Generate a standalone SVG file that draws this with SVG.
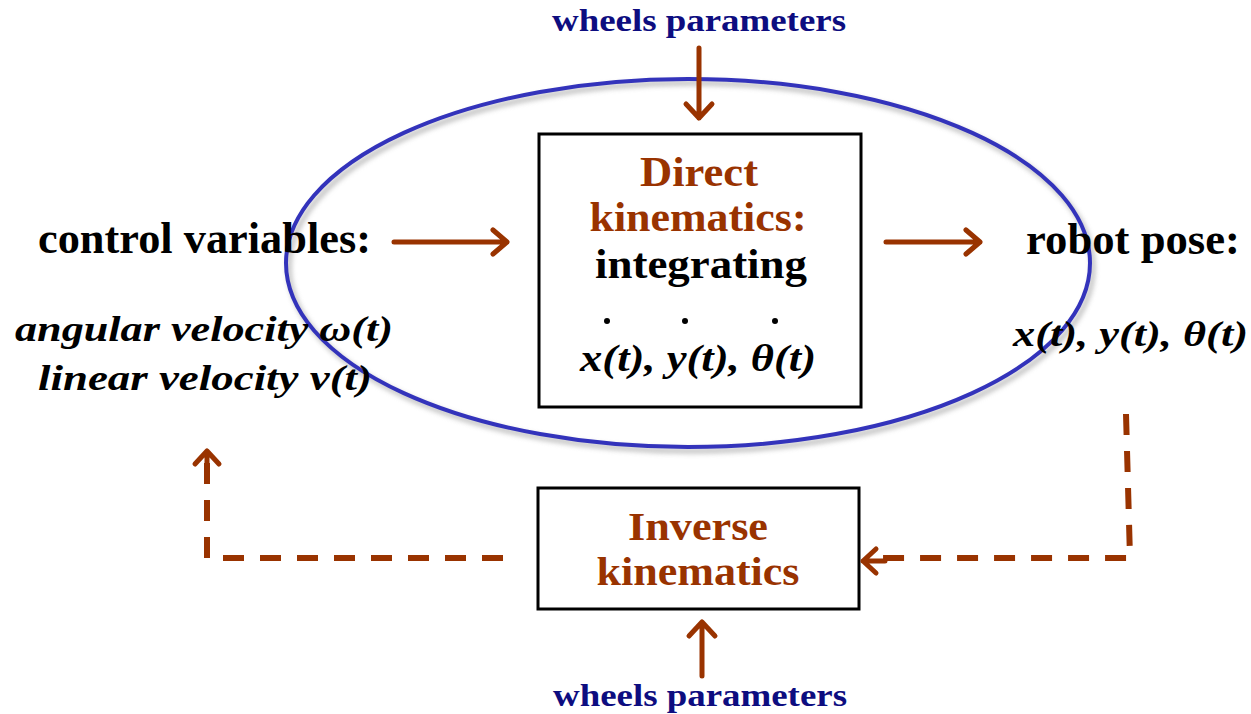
<svg xmlns="http://www.w3.org/2000/svg" width="1251" height="714" viewBox="0 0 1251 714">
<defs>
<style>
text{font-family:"Liberation Serif","Times New Roman",serif;font-weight:bold}
.nv{fill:#0d0d80;font-size:31px}
.br{fill:#993300}
.bk{fill:#000}
.it{font-style:italic}
.sol{stroke:#993300;stroke-width:5;fill:none;stroke-linecap:round;stroke-linejoin:round}
.dash{stroke:#993300;stroke-width:6;fill:none;stroke-dasharray:21 16}
.box{fill:#fff;stroke:#000;stroke-width:3}
</style>
<filter id="sh" x="-10%" y="-10%" width="120%" height="120%"><feGaussianBlur stdDeviation="2.5"/></filter>
</defs>
<rect width="1251" height="714" fill="#fff"/>
<g id="loop">
<ellipse cx="691" cy="267" rx="402" ry="184" fill="none" stroke="#999" stroke-width="5" filter="url(#sh)" opacity="0.6"/>
<ellipse cx="688" cy="263" rx="402" ry="184" fill="none" stroke="#3333bb" stroke-width="4"/>
</g>
<g id="direct">
<rect class="box" x="539" y="134" width="322" height="273"/>
<text class="br" x="699" y="186" font-size="43" text-anchor="middle" textLength="118" lengthAdjust="spacingAndGlyphs">Direct</text>
<text class="br" x="698" y="231" font-size="43" text-anchor="middle" textLength="217" lengthAdjust="spacingAndGlyphs">kinematics:</text>
<text class="bk" x="701" y="278" font-size="43" text-anchor="middle" textLength="212" lengthAdjust="spacingAndGlyphs">integrating</text>
<circle cx="607" cy="321" r="3"/><circle cx="685" cy="321" r="3"/><circle cx="775" cy="321" r="3"/>
<text class="bk it" x="698" y="371" font-size="38" text-anchor="middle" textLength="236" lengthAdjust="spacingAndGlyphs">x(t), y(t), θ(t)</text>
</g>
<g id="inverse">
<rect class="box" x="538" y="488" width="321" height="121"/>
<text class="br" x="698" y="540" font-size="41" text-anchor="middle" textLength="140" lengthAdjust="spacingAndGlyphs">Inverse</text>
<text class="br" x="698" y="585" font-size="41" text-anchor="middle" textLength="203" lengthAdjust="spacingAndGlyphs">kinematics</text>
</g>
<g id="wheels-top"><text class="nv" x="699" y="31" text-anchor="middle" textLength="294" lengthAdjust="spacingAndGlyphs">wheels parameters</text></g>
<g id="wheels-bottom"><text class="nv" x="700" y="706" text-anchor="middle" textLength="294" lengthAdjust="spacingAndGlyphs">wheels parameters</text></g>
<g id="control">
<text class="bk" x="38" y="253" font-size="45" textLength="333" lengthAdjust="spacingAndGlyphs">control variables:</text>
<text class="bk it" x="15" y="341" font-size="35" textLength="378" lengthAdjust="spacingAndGlyphs">angular velocity  ω(t)</text>
<text class="bk it" x="38" y="390" font-size="35" textLength="334" lengthAdjust="spacingAndGlyphs">linear velocity  ν(t)</text>
</g>
<g id="pose">
<text class="bk" x="1026" y="254" font-size="45" textLength="214" lengthAdjust="spacingAndGlyphs">robot pose:</text>
<text class="bk it" x="1013" y="346" font-size="35" textLength="235" lengthAdjust="spacingAndGlyphs">x(t), y(t),  θ(t)</text>
</g>
<g id="connectors">
<path class="sol" d="M699 48V118M686 104L699 118L712 104"/>
<path class="sol" d="M702 676V622M689 636L702 622L715 636"/>
<path class="sol" d="M394 242H507M493 230L507 242L493 254"/>
<path class="sol" d="M886 242H980M966 230L980 242L966 254"/>
<path class="dash" d="M503 558H207V462"/>
<path class="sol" d="M195 464L207 451L219 464M207 451V470"/>
<path class="dash" d="M1126 414L1130 558H878"/>
<path class="sol" d="M876 549L863 561L876 573M863 561H885"/>
</g>
</svg>
